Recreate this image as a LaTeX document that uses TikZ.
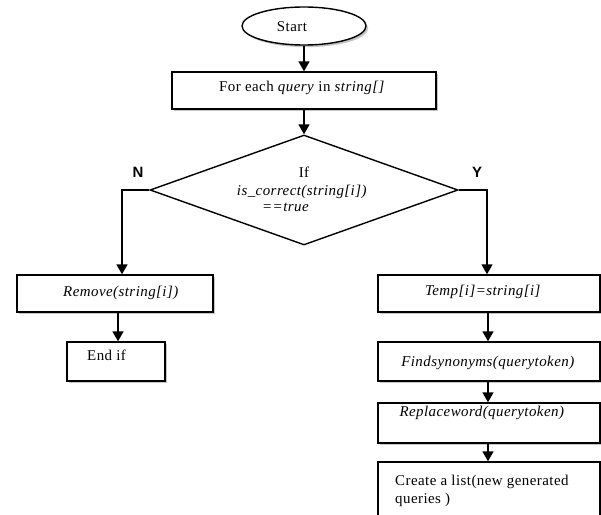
\documentclass[tikz,border=0pt]{standalone}
\usepackage{fontspec}
\setmainfont{Liberation Serif}[LetterSpace=3]
\newfontfamily\ynfont{Liberation Sans}
\usetikzlibrary{shapes.geometric,arrows.meta,shadows}
\begin{document}
\begin{tikzpicture}[x=1bp,y=-1bp,
  shp/.style={draw, line width=1.4bp, fill=white, inner sep=0pt,
    drop shadow={shadow xshift=2.2bp, shadow yshift=-2.2bp, fill=black!45}},
  box/.style={shp, rectangle},
  term/.style={shp, ellipse},
  dec/.style={draw, line width=1.4bp, fill=white, diamond, inner sep=0pt},
  txt/.style={inner sep=0pt, font=\fontsize{15}{18}\selectfont},
  yn/.style={inner sep=0pt, font=\ynfont\bfseries\fontsize{15}{17}\selectfont},
  arr/.style={line width=1.7bp, -{Triangle[width=11bp,length=10bp]}}]
\useasboundingbox (0,0) rectangle (601,515);
\clip (0,0) rectangle (601,515);
\fill[white] (0,0) rectangle (601,515);

% shapes
\node[term, minimum width=124bp, minimum height=38bp] (start) at (304,26) {};
\node[box, minimum width=264bp, minimum height=37bp] (fe) at (304,90.5) {};
\node[dec, minimum width=308bp, minimum height=110bp] (cond) at (304,190) {};
\node[box, minimum width=196bp, minimum height=37bp] (rem) at (115,293.5) {};
\node[box, minimum width=98bp, minimum height=39bp] (endif) at (116,361.5) {};
\node[box, minimum width=222bp, minimum height=37bp] (temp) at (489,293.5) {};
\node[box, minimum width=222bp, minimum height=39bp] (find) at (489,361.5) {};
\node[box, minimum width=222bp, minimum height=40bp] (rep) at (489,423) {};
\node[box, minimum width=222bp, minimum height=66bp] (cre) at (489,495) {};

% texts
\node[txt] (tstart) at (292,27) {Start};
\node[txt] (tfe) at (302,88) {For each \textit{query} in \textit{string[]}};
\node[txt] (tif) at (304,172) {If};
\node[txt] (tis) at (302,192) {\textit{is\_correct(string[i])}};
\node[txt, anchor=west] (ttrue) at (262,207) {\textit{==true}};
\node[yn] (tn) at (138,172) {N};
\node[yn] (ty) at (477,172) {Y};
\node[txt] (trem) at (121,293) {\textit{Remove(string[i])}};
\node[txt, anchor=west] (tend) at (87,355) {End if};
\node[txt] (ttemp) at (483,292) {\textit{Temp[i]=string[i]}};
\node[txt] (tfind) at (488,363) {\textit{Findsynonyms(querytoken)}};
\node[txt] (trep) at (482,413) {\textit{Replaceword(querytoken)}};
\node[txt, anchor=west, align=left] (tcre) at (395,491) {Create a list(new generated\\queries )};

% connectors
\draw[arr] (start.south) -- (start.south |- fe.north);
\draw[arr] (fe.south) -- (fe.south |- cond.north);
\draw[arr] (cond.west) -| ([xshift=7bp]rem.north);
\draw[arr] (cond.east) -| ([xshift=-2bp]temp.north);
\draw[arr] ([xshift=3bp]rem.south) -- ([xshift=3bp]rem.south |- endif.north);
\draw[arr] ([xshift=-1bp]temp.south) -- ([xshift=-1bp]temp.south |- find.north);
\draw[arr] ([xshift=-1bp]find.south) -- ([xshift=-1bp]find.south |- rep.north);
\draw[arr] ([xshift=-1bp]rep.south) -- ([xshift=-1bp]rep.south |- cre.north);
\end{tikzpicture}
\end{document}
